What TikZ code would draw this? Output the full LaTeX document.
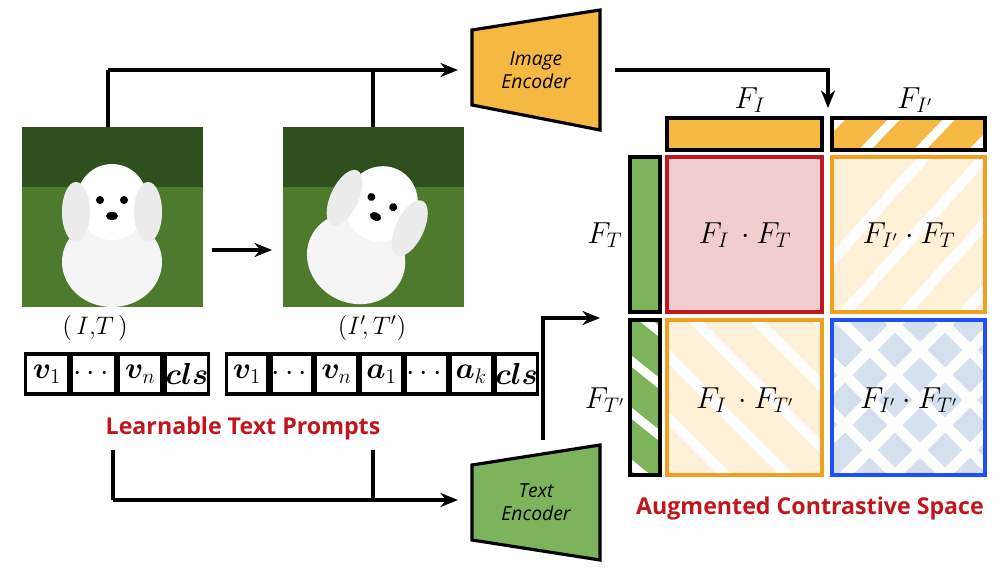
\documentclass[tikz,border=0pt]{standalone}
\usepackage{fontspec}
\usepackage{amsmath,bm}
\newfontfamily\osans{Open Sans}
\usetikzlibrary{arrows.meta,calc}
\definecolor{enc}{HTML}{F5B942}
\definecolor{gre}{HTML}{7DB35A}
\definecolor{redt}{HTML}{C0161E}
\definecolor{pinkf}{HTML}{F2CDD0}
\definecolor{orb}{HTML}{F0A020}
\definecolor{orf}{HTML}{FFF0D8}
\definecolor{blb}{HTML}{1E4FFF}
\definecolor{blf}{HTML}{D4E0EE}
\definecolor{grass}{HTML}{4E7A2E}
\definecolor{grassd}{HTML}{2F4F1E}
\begin{document}
\begin{tikzpicture}[x=0.02cm,y=-0.02cm,
  conn/.style={line width=1.8pt},
  arr/.style={conn,-{Stealth[length=10pt,width=8pt]}},
  cell/.style={draw=black,line width=1.8pt,minimum height=0.8cm,inner sep=0pt,font=\fontsize{18}{18}\selectfont},
  ca/.style={cell,minimum width=0.87cm},
  cb/.style={cell,minimum width=0.834cm},
  lab/.style={font=\fontsize{17}{17}\selectfont},
  redlab/.style={text=redt,font=\osans\bfseries\fontsize{13.2}{13.2}\selectfont},
  enctext/.style={font=\osans\itshape\fontsize{11}{13}\selectfont,align=center}]
\useasboundingbox (0,0) rectangle (1000,570);
% photos
\newcommand{\dogphoto}[3]{%
  \fill[grass] (#1,#2) rectangle ++(181,180);
  \fill[grassd] (#1,#2) rectangle ++(181,60);
  \begin{scope}[shift={(#1+90,#2+95)},rotate=#3]
    \fill[white!92!gray] (0,40) ellipse (50 and 45);
    \fill[white] (0,-20) ellipse (36 and 38);
    \fill[white!85!gray] (-36,-10) ellipse (14 and 30);
    \fill[white!85!gray] (36,-10) ellipse (14 and 30);
    \fill[black] (-12,-22) circle (4);
    \fill[black] (12,-22) circle (4);
    \fill[black] (0,-6) ellipse (6 and 4);
  \end{scope}}
\dogphoto{22}{127}{0}
\dogphoto{283}{127}{-25}
\draw[arr] (212,250) -- (272,250);
\node[font=\fontsize{14}{14}\selectfont,inner sep=1pt] (lit) at (95,328) {$(\,I,\!T\,)$};
\node[font=\fontsize{14}{14}\selectfont,inner sep=1pt] (lit2) at (372,328) {$(I'\!,T')$};
% prompts
\node[ca] (a1) at (47,374) {$\bm{v}_1$};
\node[ca,anchor=west] (a2) at (a1.east) {$\cdots$};
\node[ca,anchor=west] (a3) at (a2.east) {$\bm{v}_n$};
\node[ca,anchor=west] (a4) at (a3.east) {$\bm{cls}$};
\node[cb] (b1) at (247,374) {$\bm{v}_1$};
\node[cb,anchor=west] (b2) at (b1.east) {$\cdots$};
\node[cb,anchor=west] (b3) at (b2.east) {$\bm{v}_n$};
\node[cb,anchor=west] (b4) at (b3.east) {$\bm{a}_1$};
\node[cb,anchor=west] (b5) at (b4.east) {$\cdots$};
\node[cb,anchor=west] (b6) at (b5.east) {$\bm{a}_k$};
\node[cb,anchor=west] (b7) at (b6.east) {$\bm{cls}$};
\node[redlab] (ltp) at (243,428) {Learnable Text Prompts};
% encoders
\draw[fill=enc,line width=1.8pt] (472,30) -- (600,10) -- (600,130) -- (472,105) -- cycle;
\node[enctext] (ie) at (536,70) {Image\\Encoder};
\draw[fill=gre,line width=1.8pt] (472,465) -- (600,445) -- (600,560) -- (472,540) -- cycle;
\node[enctext] (te) at (536,502) {Text\\Encoder};
\coordinate (ieL) at (458,70); \coordinate (teL) at (458,500);
% top connectors
\coordinate (t1) at (108,127); \coordinate (t1u) at (108,70);
\coordinate (t2) at (373,127); \coordinate (t2u) at (373,70);
\draw[conn] (t1) -- (t1u);
\draw[conn] (t2) -- (t2u);
\draw[arr] (t1u) -- (ieL);
\coordinate (u1) at (113,450); \coordinate (u1d) at (113,500);
\coordinate (u2) at (373,450); \coordinate (u2d) at (373,500);
\draw[conn] (u1) -- (u1d);
\draw[conn] (u2) -- (u2d);
\draw[arr] (u1d) -- (teL);
% encoder outputs
\coordinate (ieo) at (615,70); \coordinate (mtop) at (828,108);
\draw[arr] (ieo) -- (828,70) -- (mtop);
\coordinate (teo) at (543,440); \coordinate (mleft) at (600,318);
\draw[arr] (teo) -- (543,318) -- (mleft);
% feature bars
\draw[fill=enc,line width=1.8pt] (667,118) rectangle (822,150);
\begin{scope}
\clip (832,118) rectangle (985,150);
\fill[enc] (832,118) rectangle (985,150);
\foreach \i in {0,...,4} \draw[white,line width=5pt] (800+\i*55,160) -- (850+\i*55,108);
\end{scope}
\draw[line width=1.8pt] (832,118) rectangle (985,150);
\draw[fill=gre,line width=1.8pt] (630,157) rectangle (660,312);
\begin{scope}
\clip (630,320) rectangle (660,475);
\fill[gre] (630,320) rectangle (660,475);
\foreach \i in {0,...,4} \draw[white,line width=5pt] (620,300+\i*52) -- (670,340+\i*52);
\end{scope}
\draw[line width=1.8pt] (630,320) rectangle (660,475);
% cells
\draw[fill=pinkf,draw=redt,line width=1.8pt] (667,157) rectangle (822,312);
\begin{scope}
\clip (832,157) rectangle (985,312);
\fill[orf] (832,157) rectangle (985,312);
\foreach \i in {0,...,6} \draw[white,line width=6pt] (760+\i*60,340) -- (940+\i*60,140);
\end{scope}
\draw[draw=orb,line width=1.8pt] (832,157) rectangle (985,312);
\begin{scope}
\clip (667,320) rectangle (822,475);
\fill[orf] (667,320) rectangle (822,475);
\foreach \i in {0,...,6} \draw[white,line width=6pt] (550+\i*62,300) -- (750+\i*62,500);
\end{scope}
\draw[draw=orb,line width=1.8pt] (667,320) rectangle (822,475);
\begin{scope}
\clip (832,320) rectangle (985,475);
\fill[blf] (832,320) rectangle (985,475);
\foreach \i in {0,...,6} {
  \draw[white,line width=6pt] (720+\i*50,300) -- (920+\i*50,500);
  \draw[white,line width=6pt] (720+\i*50,500) -- (920+\i*50,300);}
\end{scope}
\draw[draw=blb,line width=1.8pt] (832,320) rectangle (985,475);
% labels
\node[lab] (lfi) at (750,100) {$F_I$};
\node[lab] (lfi2) at (915,100) {$F_{I'}$};
\node[lab] (lft) at (605,235) {$F_T$};
\node[lab] (lft2) at (605,400) {$F_{T'}$};
\node[lab] (c11) at (745,235) {$F_I\,\cdot F_T$};
\node[lab] (c12) at (909,235) {$F_{I'}\cdot F_T$};
\node[lab] (c21) at (745,400) {$F_I\,\cdot F_{T'}$};
\node[lab] (c22) at (909,400) {$F_{I'}\cdot F_{T'}$};
\node[redlab] (acs) at (810,508) {Augmented Contrastive Space};
\end{tikzpicture}
\end{document}
